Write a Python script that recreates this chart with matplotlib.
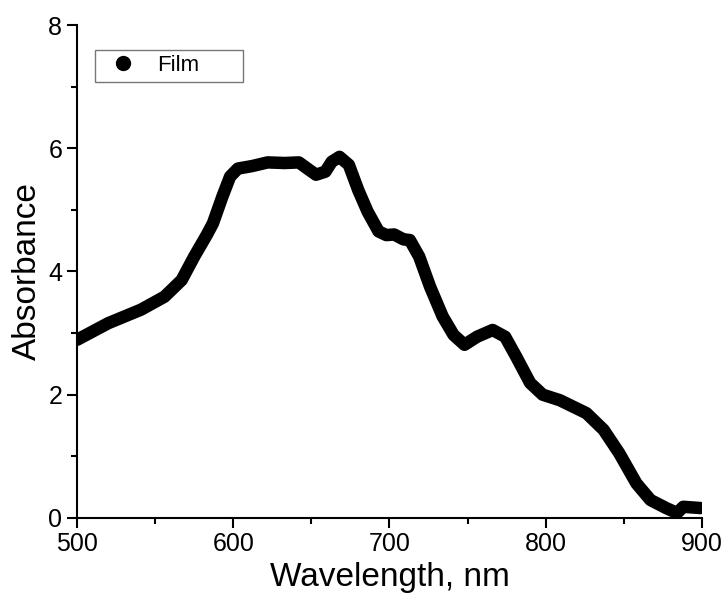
import matplotlib
matplotlib.use("Agg")
from matplotlib import pyplot as plt
from matplotlib.lines import Line2D
from matplotlib.ticker import MultipleLocator

plt.rcParams['font.family'] = ['Liberation Sans', 'DejaVu Sans']

# absorbance spectrum of the film
wavelength = [500, 520, 541, 556, 567, 575, 583, 587, 593, 598, 603, 612, 622, 633, 642,
              648, 653, 659, 663, 668, 674, 680, 686, 693, 698, 703, 709, 713, 719, 726,
              734, 741, 748, 756, 766, 774, 781, 790, 798, 809, 826, 837, 847, 858, 867,
              877, 884, 888, 899]
absorbance = [2.89, 3.16, 3.38, 3.59, 3.86, 4.24, 4.59, 4.78, 5.21, 5.54, 5.67, 5.71, 5.77, 5.76, 5.77,
              5.66, 5.57, 5.62, 5.78, 5.86, 5.73, 5.32, 4.97, 4.65, 4.59, 4.60, 4.52, 4.51, 4.24, 3.75,
              3.27, 2.97, 2.81, 2.94, 3.05, 2.94, 2.62, 2.19, 2.00, 1.91, 1.70, 1.43, 1.05, 0.56, 0.29,
              0.16, 0.08, 0.18, 0.16]

fig = plt.figure(figsize=(7.26, 6.1), dpi=100)
ax = fig.add_axes([0.106, 0.151, 0.861, 0.808])

ax.plot(wavelength, absorbance, color='black', lw=9, solid_capstyle='round',
        solid_joinstyle='round')

ax.set_xlim(500, 900)
ax.set_ylim(0, 8)
ax.xaxis.set_major_locator(MultipleLocator(100))
ax.xaxis.set_minor_locator(MultipleLocator(50))
ax.yaxis.set_major_locator(MultipleLocator(2))
ax.yaxis.set_minor_locator(MultipleLocator(1))
ax.tick_params(which='major', direction='out', length=7, width=1.5, labelsize=18)
ax.tick_params(which='minor', direction='out', length=4, width=1.5)
for side in ['top', 'right']:
    ax.spines[side].set_visible(False)
for side in ['left', 'bottom']:
    ax.spines[side].set_linewidth(1.5)

ax.set_xlabel("Wavelength, nm", fontsize=24)
ax.set_ylabel("Absorbance", fontsize=24)

handle = Line2D([], [], marker='o', color='black', linestyle='none', markersize=10)
leg = ax.legend([handle], ['Film'], loc='upper left', mode='expand',
                bbox_to_anchor=(0.029, 0.884, 0.237, 0.066),
                fontsize=16, frameon=True, fancybox=False, edgecolor='#555555',
                handletextpad=0.55, borderpad=0.25, handlelength=2.0, borderaxespad=0)
leg.get_frame().set_linewidth(1.0)

fig.savefig('out.png', dpi=100)
